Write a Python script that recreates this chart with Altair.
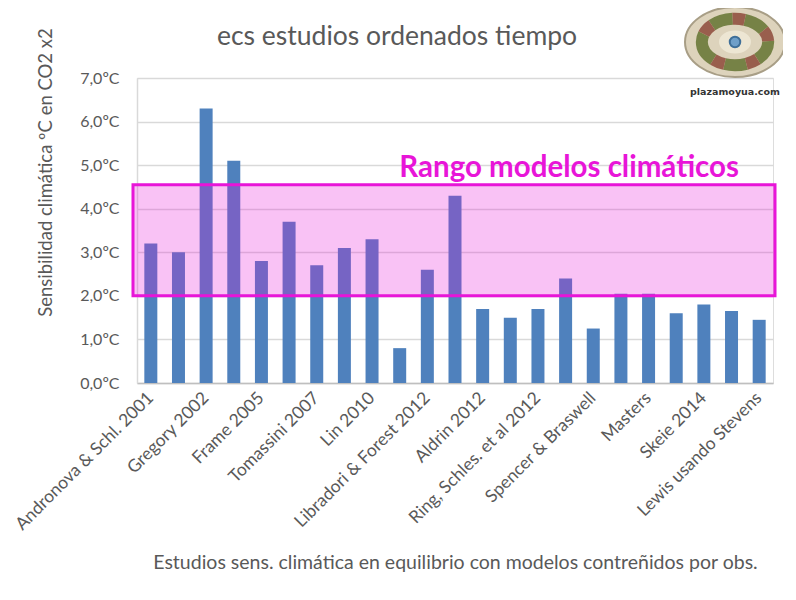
import json
import altair as alt
import pandas as pd

# --- data ---
orden = list(range(23))
valores = [3.2, 3.0, 6.3, 5.1, 2.8, 3.7, 2.7, 3.1, 3.3, 0.8, 2.6, 4.3,
           1.7, 1.5, 1.7, 2.4, 1.25, 2.05, 2.05, 1.6, 1.8, 1.65, 1.45]
etiquetas = ["Andronova & Schl. 2001", "", "Gregory 2002", "", "Frame 2005", "",
             "Tomassini 2007", "", "Lin 2010", "", "Libradori & Forest 2012", "",
             "Aldrin 2012", "", "Ring, Schles. et al 2012", "", "Spencer & Braswell", "",
             "Masters", "", "Skeie 2014", "", "Lewis usando Stevens"]
rango_min = [2.0]
rango_max = [4.55]
y_ticks = [0, 1, 2, 3, 4, 5, 6, 7]

FONT = "Lato"
GRAY = "#595959"
MAGENTA = "#E815D8"
W, H = 636, 305

df = pd.DataFrame({"orden": orden, "valor": valores})
df_rango = pd.DataFrame({"lo": rango_min, "hi": rango_max})

label_expr = json.dumps(etiquetas, ensure_ascii=False) + "[datum.value]"
y_label_expr = "replace(format(datum.value, '.1f'), '.', ',') + 'ºC'"

y_title = "Sensibilidad climática ºC en CO2 x2"
x_title = "Estudios sens. climática en equilibrio con modelos contreñidos por obs."

yscale = alt.Scale(domain=[0, 7], nice=False)

bars = alt.Chart(df).mark_bar(color="#4F81BD").encode(
    x=alt.X("orden:O",
            scale=alt.Scale(paddingInner=0.53, paddingOuter=0.265),
            axis=alt.Axis(title=x_title, labelExpr=label_expr, labelAngle=-45,
                          labelAlign="right", labelBaseline="middle",
                          labelPadding=12, labelLimit=400, ticks=False,
                          domainColor="#BFBFBF", labelOverlap=False,
                          domainWidth=1.5, labelFont=FONT, labelFontSize=17.5,
                          labelColor=GRAY, titleFont=FONT, titleFontSize=19.5,
                          titleColor=GRAY, titleFontWeight="normal",
                          titleY=179, titleBaseline="middle")),
    y=alt.Y("valor:Q", scale=yscale,
            axis=alt.Axis(title=y_title, values=y_ticks, labelExpr=y_label_expr,
                          ticks=False, grid=True, gridColor="#D9D9D9",
                          gridWidth=1.5, domainColor="#D9D9D9", domainWidth=1.5,
                          labelPadding=18, labelFont=FONT, labelFontSize=16,
                          labelColor=GRAY, titleFont=FONT, titleFontSize=18.5,
                          titleColor=GRAY, titleFontWeight="normal",
                          titleX=-92, titleY=94, titleAlign="center",
                          titleBaseline="middle")),
)

rango = alt.Chart(df_rango).mark_rect(
    fill=MAGENTA, fillOpacity=0.26, stroke=MAGENTA, strokeWidth=3
).encode(
    x=alt.value(-4), x2=alt.value(W + 2),
    y=alt.Y("lo:Q", scale=yscale, title=y_title),
    y2="hi:Q",
)

rango_txt = alt.Chart(df_rango).mark_text(
    text="Rango modelos climáticos", font=FONT, fontSize=29.5, fontWeight="bold",
    color=MAGENTA, align="right", baseline="alphabetic", dy=-8
).encode(x=alt.value(W - 34), y=alt.Y("hi:Q", scale=yscale, title=y_title))

titulo = alt.Chart(df_rango).mark_text(
    text="ecs estudios ordenados tiempo", font=FONT, fontSize=26.5,
    fontWeight="normal", color=GRAY, align="center", baseline="alphabetic"
).encode(x=alt.value(397 - 137), y=alt.value(45 - 78))

# logo approximation (plazamoyua.com)
ELLIPSE = "M -1 0 A 1 0.7 0 1 0 1 0 A 1 0.7 0 1 0 -1 0 Z"
LX, LY = 735 - 137, 42 - 78
logo_base = alt.Chart(df_rango).mark_point(
    shape=ELLIPSE, size=10000, filled=True, fill="#DDD3BC", stroke="#A89E86",
    strokeWidth=2, opacity=1
).encode(x=alt.value(LX), y=alt.value(LY))
logo_ring_g = alt.Chart(df_rango).mark_point(
    shape=ELLIPSE, size=4400, filled=False, stroke="#6B7A3A", strokeWidth=12,
    strokeDash=[22, 12], opacity=0.9
).encode(x=alt.value(LX), y=alt.value(LY))
logo_ring_b = alt.Chart(df_rango).mark_point(
    shape=ELLIPSE, size=4400, filled=False, stroke="#8E4A3A", strokeWidth=12,
    strokeDash=[0, 22, 12, 0], opacity=0.85
).encode(x=alt.value(LX), y=alt.value(LY))
logo_inner = alt.Chart(df_rango).mark_point(
    shape=ELLIPSE, size=900, filled=True, fill="#EDE6D3", stroke="#EDE6D3",
    opacity=1
).encode(x=alt.value(LX), y=alt.value(LY))
logo_dot = alt.Chart(df_rango).mark_point(
    shape="circle", size=110, filled=True, fill="#6F9FC8", stroke="#3F6F98",
    opacity=1
).encode(x=alt.value(LX), y=alt.value(LY))
logo_txt = alt.Chart(df_rango).mark_text(
    text="plazamoyua.com", font="DejaVu Sans", fontSize=9.5, fontWeight="bold",
    color="#333333", align="center", baseline="middle"
).encode(x=alt.value(LX), y=alt.value(92 - 78))

chart = alt.layer(bars, rango, rango_txt, titulo, logo_base, logo_ring_g,
                  logo_ring_b, logo_inner, logo_dot, logo_txt).properties(
    width=W, height=H,
    autosize=alt.AutoSizeParams(type="none"),
    padding={"left": 129, "top": 70, "right": 10, "bottom": 200},
).configure_view(stroke=None).configure(background="white")

chart.save("out.html", embed_options={"renderer": "svg", "actions": False})
